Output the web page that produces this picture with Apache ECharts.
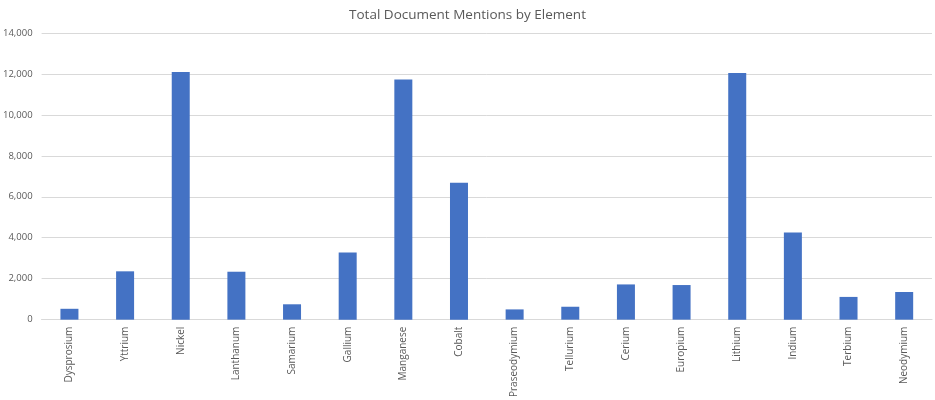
<!DOCTYPE html>
<html>
<head>
<meta charset="utf-8">
<script src="https://cdn.jsdelivr.net/npm/echarts@6/dist/echarts.min.js"></script>
<style>
  html, body { margin: 0; padding: 0; background: #fff; }
  #chart { width: 935px; height: 400px; }
</style>
</head>
<body>
<div id="chart"></div>
<script>
  var elements = ['Dysprosium', 'Yttrium', 'Nickel', 'Lanthanum', 'Samarium', 'Gallium', 'Manganese', 'Cobalt',
    'Praseodymium', 'Tellurium', 'Cerium', 'Europium', 'Lithium', 'Indium', 'Terbium', 'Neodymium'];
  var mentions = [530, 2360, 12100, 2340, 750, 3280, 11730, 6690, 500, 630, 1720, 1690, 12050, 4260, 1110, 1350];

  var textColor = '#595959';
  var gridColor = '#d9d9d9';

  var myChart = echarts.init(document.getElementById('chart'));
  var option = {
    animation: false,
    title: {
      text: 'Total Document Mentions by Element',
      left: 'center',
      top: 3,
      textStyle: { color: textColor, fontSize: 13.5, fontWeight: 'normal', fontFamily: 'Open Sans' }
    },
    grid: { left: 38, right: 3, top: 33, bottom: 77, containLabel: false },
    xAxis: {
      type: 'category',
      data: elements,
      axisLine: { lineStyle: { color: gridColor } },
      axisTick: { show: false },
      axisLabel: { rotate: 90, color: textColor, fontSize: 10, fontFamily: 'Open Sans', margin: 7, interval: 0 }
    },
    yAxis: {
      type: 'value',
      min: 0,
      max: 14000,
      interval: 2000,
      axisLine: { show: false },
      axisTick: { show: false },
      splitLine: { lineStyle: { color: gridColor, width: 1 } },
      axisLabel: {
        color: textColor, fontSize: 9.5, fontFamily: 'Open Sans', margin: 9,
        formatter: function (v) { return v.toLocaleString('en-US'); }
      }
    },
    series: [{
      type: 'bar',
      data: mentions,
      barWidth: 18,
      itemStyle: { color: '#4472c4' }
    }]
  };
  myChart.setOption(option);
</script>
</body>
</html>
